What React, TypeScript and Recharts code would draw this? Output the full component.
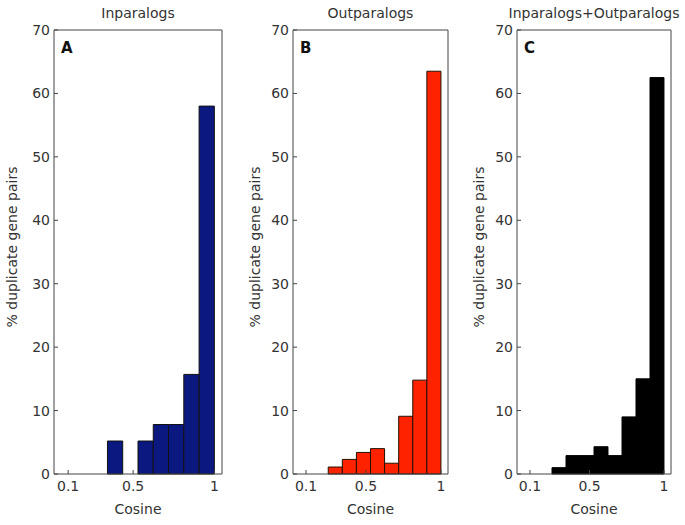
import React from 'react';
import { BarChart, Bar, XAxis, YAxis } from 'recharts';

// bin centres of the cosine histogram (10 bins, width ~0.094)
const cosineBins = [0.107, 0.201, 0.295, 0.389, 0.483, 0.577, 0.671, 0.765, 0.859, 0.953];
const BIN_WIDTH = 0.094;

const inparalogs = [0, 0, 0, 5.2, 0, 5.2, 7.8, 7.8, 15.7, 58.0];
const outparalogs = [0, 0, 1.1, 2.3, 3.4, 4.0, 1.7, 9.1, 14.8, 63.5];
const combined = [0, 0, 1.0, 2.9, 2.9, 4.3, 2.9, 9.0, 15.0, 62.5];

const xTicks = [0.1, 0.5, 1];
const yTicks = [0, 10, 20, 30, 40, 50, 60, 70];
const X_DOMAIN: [number, number] = [0.013, 1.047];

const AXIS = '#444';
const TEXT = '#333';

interface PanelProps {
  plotLeft: number;
  plotWidth: number;
  values: number[];
  fill: string;
  stroke: string;
  title: string;
  letter: string;
  yLabelOffset: number;
}

const Panel: React.FC<PanelProps> = ({ plotLeft, plotWidth, values, fill, stroke, title, letter, yLabelOffset }) => {
  const chartLeft = plotLeft - 54;
  const data = cosineBins.map((c, i) => ({ cosine: c, pct: values[i] }));
  // bars touch each other like a histogram; tiny epsilon keeps recharts from shrinking them
  const barSize = (plotWidth * BIN_WIDTH) / (X_DOMAIN[1] - X_DOMAIN[0]) - 0.02;
  const ylx = 54 + yLabelOffset;
  const yly = 247;

  return (
    <>
      <div style={{ position: 'absolute', left: plotLeft, width: plotWidth, top: 5, fontSize: 14, color: TEXT, whiteSpace: 'nowrap', display: 'flex', justifyContent: 'center' }}>
        {title}
      </div>
      <div style={{ position: 'absolute', left: chartLeft, top: 0 }}>
        <BarChart
          width={plotWidth + 60}
          height={525}
          data={data}
          margin={{ top: 29, right: 5, bottom: 11, left: 20 }}
          barGap={0}
          barCategoryGap={0}
        >
          <XAxis
            xAxisId="b"
            type="number"
            dataKey="cosine"
            domain={X_DOMAIN}
            ticks={xTicks}
            tickSize={-4}
            tickMargin={11}
            height={40}
            stroke={AXIS}
            tick={{ fill: TEXT, fontSize: 14 }}
            label={{ value: 'Cosine', position: 'insideBottom', offset: 0, fill: TEXT, fontSize: 14 }}
          />
          <XAxis
            xAxisId="t"
            orientation="top"
            type="number"
            dataKey="cosine"
            domain={X_DOMAIN}
            ticks={xTicks}
            tickSize={-4}
            tick={false}
            height={1}
            stroke={AXIS}
          />
          <YAxis
            yAxisId="l"
            domain={[0, 70]}
            ticks={yTicks}
            tickSize={-4}
            tickMargin={8}
            width={34}
            stroke={AXIS}
            tick={{ fill: TEXT, fontSize: 14 }}
            label={{
              content: () => (
                <text
                  x={ylx}
                  y={yly}
                  transform={`rotate(-90 ${ylx} ${yly})`}
                  textAnchor="middle"
                  dominantBaseline="central"
                  fill={TEXT}
                  fontSize={14}
                >
                  % duplicate gene pairs
                </text>
              ),
            }}
          />
          <YAxis
            yAxisId="r"
            orientation="right"
            domain={[0, 70]}
            ticks={yTicks}
            tickSize={-4}
            tick={false}
            width={1}
            stroke={AXIS}
          />
          <Bar
            xAxisId="b"
            yAxisId="l"
            dataKey="pct"
            fill={fill}
            stroke={stroke}
            strokeWidth={1}
            barSize={barSize}
            isAnimationActive={false}
          />
        </BarChart>
      </div>
      <div style={{ position: 'absolute', left: plotLeft + 7, top: 39, fontSize: 15, fontWeight: 'bold', color: '#111' }}>
        {letter}
      </div>
    </>
  );
};

const App: React.FC = () => {
  return (
    <div
      style={{
        position: 'absolute',
        left: 0,
        top: 0,
        width: 685,
        height: 525,
        background: '#fff',
        fontFamily: '"DejaVu Sans", sans-serif',
        overflow: 'hidden',
      }}
    >
      <Panel plotLeft={54} plotWidth={168} values={inparalogs} fill="#0b1880" stroke="#111" title="Inparalogs" letter="A" yLabelOffset={-42} />
      <Panel plotLeft={293} plotWidth={155} values={outparalogs} fill="#ff2200" stroke="#221100" title="Outparalogs" letter="B" yLabelOffset={-38} />
      <Panel plotLeft={517} plotWidth={154} values={combined} fill="#000" stroke="#000" title="Inparalogs+Outparalogs" letter="C" yLabelOffset={-38} />
    </div>
  );
};

export default App;
